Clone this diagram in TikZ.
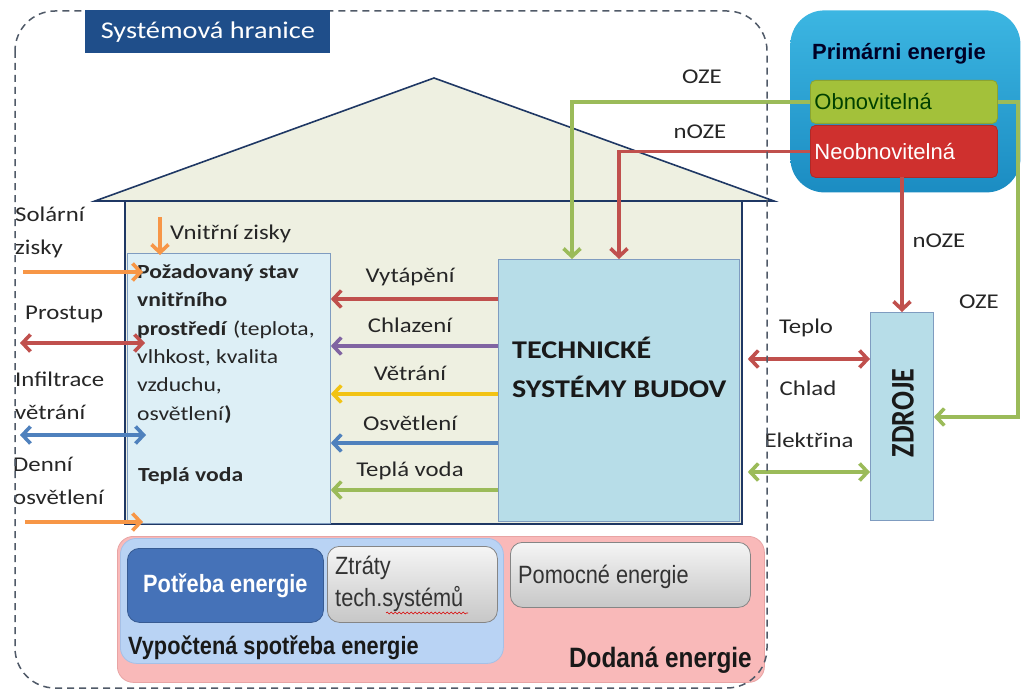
\documentclass[tikz,border=0pt]{standalone}
\usepackage{fontspec}
\setmainfont{Carlito}[FakeStretch=1.18]
\newfontfamily\arialfont{Liberation Sans}
\newfontfamily\narrowfont{Liberation Sans}[FakeStretch=0.87]
\newfontfamily\zfont{Carlito}[FakeStretch=0.85]
\usetikzlibrary{arrows.meta,calc,decorations.pathmorphing}

\definecolor{navy}{HTML}{1F3864}
\definecolor{houseFill}{HTML}{EEF0E1}
\definecolor{innerFill}{HTML}{DDEFF6}
\definecolor{techFill}{HTML}{B7DDE8}
\definecolor{boxLine}{HTML}{7F9CC0}
\definecolor{arRed}{HTML}{C0504D}
\definecolor{arPurple}{HTML}{8064A2}
\definecolor{arYellow}{HTML}{F2C314}
\definecolor{arBlue}{HTML}{4F81BD}
\definecolor{arGreen}{HTML}{9BBB59}
\definecolor{arOrange}{HTML}{F79646}
\definecolor{labelBlue}{HTML}{1F4E8A}
\definecolor{primTop}{HTML}{3CB6E2}
\definecolor{primBot}{HTML}{1B8CC2}
\definecolor{obnFill}{HTML}{A3C13A}
\definecolor{neoFill}{HTML}{CF302E}
\definecolor{pinkFill}{HTML}{F9B9B9}
\definecolor{pinkLine}{HTML}{E8A4A4}
\definecolor{calcFill}{HTML}{B9D3F4}
\definecolor{calcLine}{HTML}{A6C0E6}
\definecolor{needFill}{HTML}{4572B8}
\definecolor{grayLine}{HTML}{858585}
\definecolor{boundary}{HTML}{505A68}
\definecolor{txt}{HTML}{262626}

\tikzset{
  flow/.style={line width=3.6pt, -{Straight Barb[length=8pt,width=17pt]}},
  bothflow/.style={line width=3.6pt, {Straight Barb[length=8pt,width=17pt]}-{Straight Barb[length=8pt,width=17pt]}},
  lbl/.style={font=\fontsize{21}{33}\selectfont, text=txt, inner sep=0pt},
  boxnode/.style={anchor=north west, inner sep=0pt, line width=0.8pt},
  graybox/.style={boxnode, rounded corners=12pt, draw=grayLine, top color=white!96!black, bottom color=white!78!black},
  narrowtxt/.style={font=\narrowfont\fontsize{25}{32}\selectfont, inner sep=0pt}
}

\begin{document}
\begin{tikzpicture}[x=1pt,y=-1pt]
\useasboundingbox (0,0) rectangle (1025,698);
\fill[white] (0,0) rectangle (1025,698);

% house
\draw[navy, line width=1.6pt, fill=houseFill, line join=miter] (95,201) -- (434,78) -- (774,201) -- cycle;
\draw[navy, line width=2.2pt, fill=houseFill] (125,201) rectangle (742,524);

% inner boxes
\node[boxnode, draw=boxLine, fill=innerFill, minimum width=203pt, minimum height=270pt] (poz) at (127,253) {};
\node[boxnode, draw=boxLine, fill=techFill, minimum width=241pt, minimum height=262pt] (tsb) at (498,259) {};
\node[boxnode, draw=boxLine, fill=techFill, minimum width=63pt, minimum height=208pt] (zdr) at (870,312) {};

\node[anchor=north west, align=left, inner sep=0pt, text=black!85, font=\fontsize{20}{28.4}\selectfont] (pozt) at (137,264)
  {\textbf{Požadovaný stav}\\\textbf{vnitřního}\\\textbf{prostředí} (teplota,\\vlhkost, kvalita\\vzduchu,\\osvětlení\textbf{)}};
\node[anchor=base west, inner sep=0pt, text=black!85, font=\bfseries\fontsize{20}{24}\selectfont] (tv) at (138,481) {Teplá voda};
\node[anchor=north west, align=left, inner sep=0pt, text=black!90, font=\bfseries\fontsize{25.5}{39}\selectfont] (tsbt) at (512,337)
  {TECHNICKÉ\\SYSTÉMY BUDOV};
\node[rotate=90, inner sep=0pt, text=black!90, font=\zfont\bfseries\fontsize{33}{36}\selectfont] (zdrt) at (903,413) {ZDROJE};

% primary energy
\node[boxnode, rounded corners=34pt, top color=primTop, bottom color=primBot, minimum width=230pt, minimum height=182pt] (prim) at (790,10) {};
\node[font=\arialfont\bfseries\fontsize{22}{26}\selectfont, text=black!85!blue, inner sep=0pt] (primt) at (899,54) {Primárni energie};
\node[boxnode, rounded corners=5pt, fill=obnFill, draw=obnFill!85!black, minimum width=187pt, minimum height=43pt, text width=183pt, align=left, font=\arialfont\fontsize{22}{26}\selectfont, text=black!75!green] (obn) at (810,80) {\hspace*{2pt}Obnovitelná};
\node[boxnode, rounded corners=5pt, fill=neoFill, draw=neoFill!85!black, minimum width=187pt, minimum height=52pt, text width=183pt, align=left, font=\arialfont\fontsize{22}{26}\selectfont, text=white] (neo) at (810,125) {\hspace*{2pt}Neobnovitelná};

% bottom energy boxes
\node[boxnode, rounded corners=16pt, fill=pinkFill, draw=pinkLine, minimum width=647pt, minimum height=146pt] (dod) at (117,536) {};
\node[boxnode, rounded corners=16pt, fill=calcFill, draw=calcLine, minimum width=383pt, minimum height=125pt] (calc) at (120,538) {};
\node[boxnode, rounded corners=12pt, fill=needFill, draw=needFill!80!black, minimum width=196pt, minimum height=74pt, text=white, font=\narrowfont\bfseries\fontsize{25}{30}\selectfont] (need) at (127,548) {Potřeba energie};
\node[graybox, minimum width=170pt, minimum height=76pt] (ztr) at (327,546) {};
\node[graybox, minimum width=240pt, minimum height=65pt] (pom) at (510,542) {};
\node[narrowtxt, anchor=north west, align=left, text=black!80] (ztrt) at (335,556) {Ztráty\\tech.systémů};
\draw[red!85!black, line width=0.6pt, decorate, decoration={snake, amplitude=0.9pt, segment length=4pt}] (386,613) -- (468,613);
\node[narrowtxt, anchor=west, text=black!80] (pomt) at (518,577) {Pomocné energie};
\node[narrowtxt, anchor=west, text=black!90, font=\narrowfont\bfseries\fontsize{25}{30}\selectfont] (calct) at (128,648) {Vypočtená spotřeba energie};
\node[narrowtxt, anchor=east, text=black!90, font=\narrowfont\bfseries\fontsize{28}{32}\selectfont] (dodt) at (752,660) {Dodaná energie};

% flows from technical systems to indoor environment
\coordinate (yH) at (0,299);
\coordinate (yC) at (0,346);
\coordinate (yV) at (0,394);
\coordinate (yO) at (0,443);
\coordinate (yT) at (0,490);
\draw[flow, arRed] (tsb.west |- yH) -- (poz.east |- yH);
\draw[flow, arPurple] (tsb.west |- yC) -- (poz.east |- yC);
\draw[flow, arYellow] (tsb.west |- yV) -- (poz.east |- yV);
\draw[flow, arBlue] (tsb.west |- yO) -- (poz.east |- yO);
\draw[flow, arGreen] (tsb.west |- yT) -- (poz.east |- yT);
\node[lbl, anchor=base] (lh) at (410,282) {Vytápění};
\node[lbl, anchor=base] (lc) at (410,332) {Chlazení};
\node[lbl, anchor=base] (lv) at (410,380) {Větrání};
\node[lbl, anchor=base] (lo) at (410,430) {Osvětlení};
\node[lbl, anchor=base] (lt) at (410,476) {Teplá voda};

% external influences on the left
\coordinate (solS) at (23,272);
\coordinate (prS) at (20,343);
\coordinate (infS) at (20,435);
\coordinate (denS) at (25,522);
\coordinate (vzS) at (160,217);
\draw[flow, arOrange, shorten >=-16pt] (solS) -- (poz.west |- solS);
\draw[bothflow, arRed, shorten >=-18pt] (prS) -- (poz.west |- prS);
\draw[bothflow, arBlue, shorten >=-19pt] (infS) -- (poz.west |- infS);
\draw[flow, arOrange, shorten >=-16pt] (denS) -- (poz.west |- denS);
\draw[flow, arOrange, shorten >=-2pt] (vzS) -- (vzS |- poz.north);
\node[lbl, anchor=north west, align=left] (sol) at (15,207) {Solární\\zisky};
\node[lbl, anchor=base west] (pro) at (25,319) {Prostup};
\node[lbl, anchor=north west, align=left] (inf) at (15,372) {Infiltrace\\větrání};
\node[lbl, anchor=north west, align=left] (den) at (13,457) {Denní\\osvětlení};
\node[lbl, anchor=base west] (vz) at (170,239) {Vnitřní zisky};

% primary energy supply
\coordinate (ozeIn) at (572,259);
\coordinate (noIn) at (619,259);
\coordinate (neoBot) at (902,177);
\coordinate (ozeCorner) at (1018,417);
\draw[flow, arGreen] (obn.west) -| (ozeIn);
\draw[flow, arRed] (neo.west) -| (noIn);
\draw[flow, arRed] (neoBot) -- (neoBot |- zdr.north);
\draw[flow, arGreen] (obn.east) -| (ozeCorner) -- (zdr.east |- ozeCorner);
\node[lbl, anchor=base] (l1) at (702,84) {OZE};
\node[lbl, anchor=base] (l2) at (700,139) {nOZE};
\node[lbl, anchor=base] (l3) at (939,247) {nOZE};
\node[lbl, anchor=base] (l4) at (979,308) {OZE};

% exchange with sources
\coordinate (yTep) at (0,359);
\coordinate (yEl) at (0,472);
\draw[bothflow, arRed, shorten <=8pt] (tsb.east |- yTep) -- (zdr.west |- yTep);
\draw[bothflow, arGreen, shorten <=8pt] (tsb.east |- yEl) -- (zdr.west |- yEl);
\node[lbl, anchor=base] (l5) at (806,333) {Teplo};
\node[lbl, anchor=base] (l6) at (808,395) {Chlad};
\node[lbl, anchor=base] (l7) at (809,447) {Elektřina};

% system boundary
\draw[boundary, line width=1.5pt, dash pattern=on 7pt off 5pt, rounded corners=40pt] (15,11) rectangle (767,688);
\node[boxnode, fill=labelBlue, minimum width=245pt, minimum height=43pt, text=white, font=\fontsize{24}{28}\selectfont] (sh) at (85,10) {Systémová hranice};
\end{tikzpicture}
\end{document}
